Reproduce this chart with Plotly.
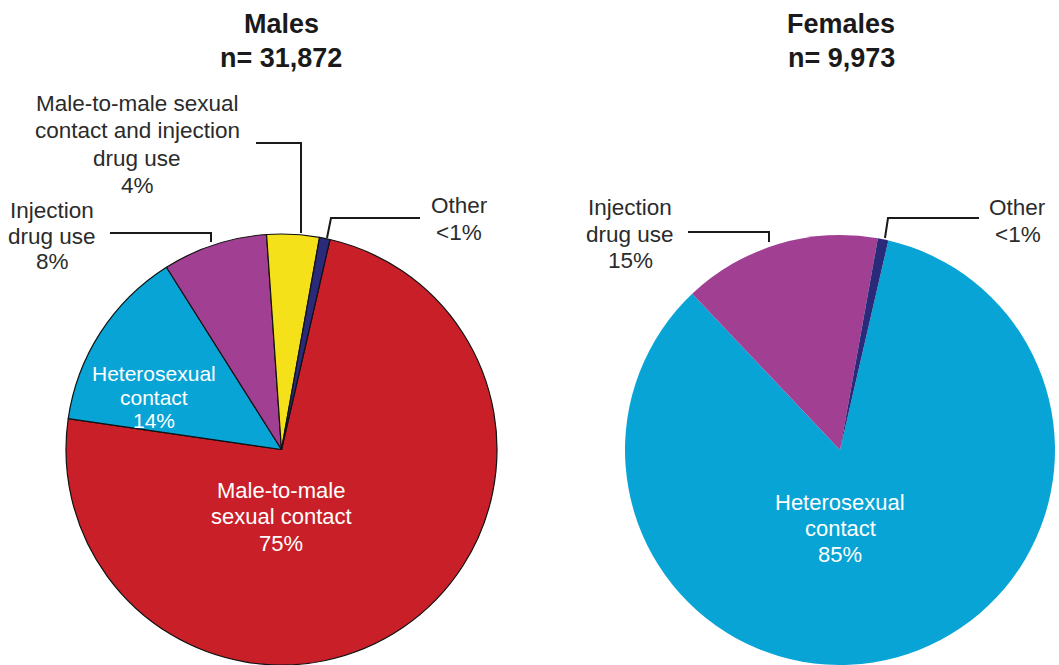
import plotly.graph_objects as go

W, H = 1059, 665

# ---- data -------------------------------------------------------------
male_categories = [
    "Male-to-male sexual contact",
    "Heterosexual contact",
    "Injection drug use",
    "Male-to-male sexual contact and injection drug use",
    "Other",
]
male_values = [75, 14, 8, 4, 0.8]

female_categories = ["Heterosexual contact", "Injection drug use", "Other"]
female_values = [85, 15, 0.8]

male_title = ["Males", "n= 31,872"]
female_title = ["Females", "n= 9,973"]

# ---- styling ----------------------------------------------------------
C_RED = "#C91F28"
C_BLUE = "#08A4D5"
C_PURPLE = "#A13F93"
C_YELLOW = "#F5E11A"
C_NAVY = "#2A2A7B"
TXT = "#2b2b2b"
FONT = "Liberation Sans, Arial, Helvetica, sans-serif"

male_colors = [C_RED, C_BLUE, C_PURPLE, C_YELLOW, C_NAVY]
female_colors = [C_BLUE, C_PURPLE, C_NAVY]


def px(x):
    return x / W


def py(y):
    return 1 - y / H


fig = go.Figure()

fig.add_trace(go.Pie(
    labels=male_categories, values=male_values,
    marker=dict(colors=male_colors, line=dict(color="#111111", width=1.2)),
    sort=False, direction="clockwise", rotation=13,
    textinfo="none", hoverinfo="label+percent", showlegend=False,
    domain=dict(x=[px(66), px(497)], y=[0, 431 / H]),
))

fig.add_trace(go.Pie(
    labels=female_categories, values=female_values,
    marker=dict(colors=female_colors, line=dict(width=0)),
    sort=False, direction="clockwise", rotation=13,
    textinfo="none", hoverinfo="label+percent", showlegend=False,
    domain=dict(x=[px(625), px(1055)], y=[0, 430 / H]),
))

annotations = []


def add_lines(lines, cx, ys, size, color, bold=False):
    for text, y in zip(lines, ys):
        t = f"<b>{text}</b>" if bold else text
        annotations.append(dict(
            text=t, x=px(cx), y=py(y), xref="paper", yref="paper",
            xanchor="center", yanchor="middle", showarrow=False,
            font=dict(family=FONT, size=size, color=color),
        ))


def pct(v):
    return "<1%" if v < 1 else f"{v:.0f}%"


# Titles
add_lines(male_title, 281, [24, 58], 27, "#1a1a1a", bold=True)
add_lines(female_title, 841, [24, 58], 27, "#1a1a1a", bold=True)

# Males: outside labels
add_lines(["Male-to-male sexual", "contact and injection", "drug use", pct(male_values[3])],
          137, [104, 131, 158, 185], 22.5, TXT)
add_lines(["Injection", "drug use", pct(male_values[2])], 52, [210, 236, 262], 22.5, TXT)
add_lines(["Other", pct(male_values[4])], 459, [205, 232], 22.5, TXT)

# Males: inside labels
add_lines(["Heterosexual", "contact", pct(male_values[1])], 154, [373, 397, 421], 21, "white")
add_lines(["Male-to-male", "sexual contact", pct(male_values[0])], 281, [491, 516, 543], 22, "white")

# Females: outside labels
add_lines(["Injection", "drug use", pct(female_values[1])], 630, [207, 234, 260], 22.5, TXT)
add_lines(["Other", pct(female_values[2])], 1018, [207, 235], 22.5, TXT)

# Females: inside label
add_lines(["Heterosexual", "contact", pct(female_values[0])], 840, [502, 528, 554], 22, "white")

# Leader lines (pixel polylines)
leaders = [
    [(256, 143), (301, 143), (301, 233)],
    [(110, 233), (211, 233), (211, 242)],
    [(327, 238), (331, 218), (420, 218)],
    [(688, 232), (769, 232), (769, 242)],
    [(885, 238), (888, 218), (979, 218)],
]
shapes = []
for pts in leaders:
    d = "M " + " L ".join(f"{px(x):.5f},{py(y):.5f}" for x, y in pts)
    shapes.append(dict(type="path", path=d, xref="paper", yref="paper",
                       line=dict(color="#1a1a1a", width=2)))

fig.update_layout(
    width=W, height=H,
    margin=dict(l=0, r=0, t=0, b=0),
    paper_bgcolor="white", plot_bgcolor="white",
    annotations=annotations, shapes=shapes,
)

fig.write_html("out.html")
